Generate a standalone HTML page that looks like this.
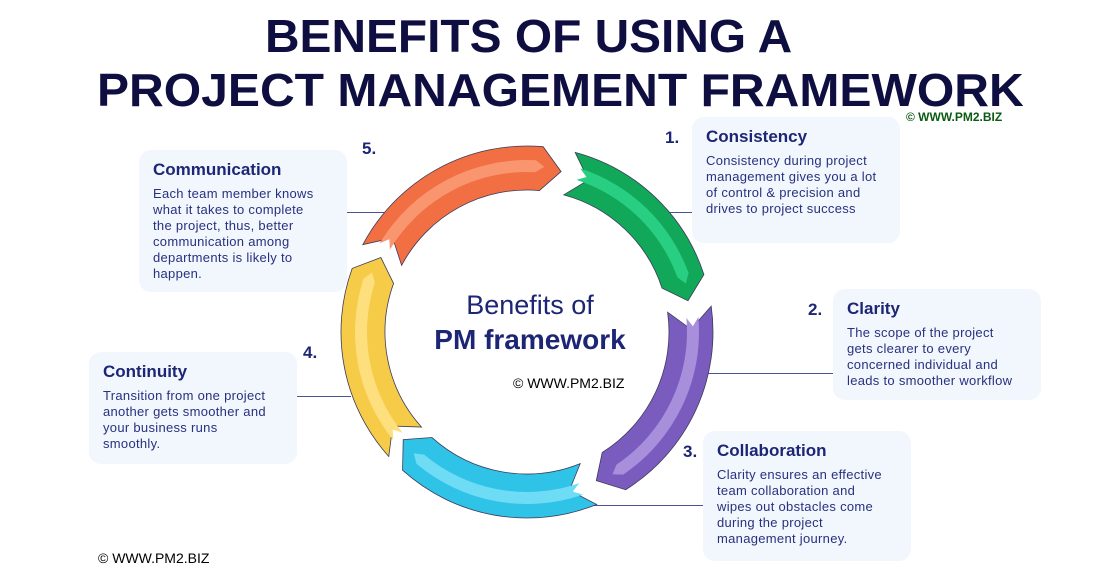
<!DOCTYPE html>
<html><head><meta charset="utf-8"><style>
body{margin:0;width:1120px;height:581px;background:#fff;position:relative;overflow:hidden;font-family:"Liberation Sans",sans-serif}
.t{position:absolute;white-space:nowrap;font-weight:bold;font-size:46px;color:#0e0e40;transform-origin:left top}
.box{position:absolute;background:#f2f6fd;border-radius:12px;box-sizing:border-box;padding:10px 14px;color:#27317f}
.box h3{margin:0 0 6px;font-size:17px;color:#1c2675}
.box p{margin:0;font-size:13px;line-height:16px;letter-spacing:0.3px;white-space:nowrap}
.num{position:absolute;font-weight:bold;font-size:17px;color:#1c2675}
.ln{position:absolute;height:1px;background:#4a5494}
.wm{position:absolute;font-size:14px;color:#000}
</style></head><body>
<div class="t" style="top:9px;left:265px;transform:scaleX(1.04)">BENEFITS OF USING A</div>
<div class="t" style="top:63px;left:97px;transform:scaleX(1.045)">PROJECT MANAGEMENT FRAMEWORK</div>
<div class="wm" style="left:906px;top:110px;font-size:12px;font-weight:bold;color:#0b5a14">© WWW.PM2.BIZ</div>
<div class="wm" style="left:513px;top:375px">© WWW.PM2.BIZ</div>
<div class="wm" style="left:98px;top:550px">© WWW.PM2.BIZ</div>

<div class="ln" style="left:347px;top:212px;width:40px"></div>
<div class="ln" style="left:662px;top:212px;width:32px"></div>
<div class="ln" style="left:700px;top:373px;width:135px"></div>
<div class="ln" style="left:575px;top:505px;width:130px"></div>
<div class="ln" style="left:296px;top:396px;width:55px"></div>

<svg width="1120" height="581" style="position:absolute;left:0;top:0" id="cyc"></svg>

<div style="position:absolute;left:405px;top:290px;width:250px;text-align:center;color:#1c2675">
<div style="font-size:27px">Benefits of</div><div style="font-size:28px;font-weight:bold;margin-top:3px">PM framework</div></div>

<div class="num" style="left:665px;top:128px">1.</div>
<div class="box" style="left:692px;top:117px;width:208px;height:126px"><h3>Consistency</h3><p>Consistency during project<br>management gives you a lot<br>of control &amp; precision and<br>drives to project success</p></div>
<div class="num" style="left:808px;top:300px">2.</div>
<div class="box" style="left:833px;top:289px;width:208px;height:111px"><h3>Clarity</h3><p>The scope of the project<br>gets clearer to every<br>concerned individual and<br>leads to smoother workflow</p></div>
<div class="num" style="left:683px;top:442px">3.</div>
<div class="box" style="left:703px;top:431px;width:208px;height:130px"><h3>Collaboration</h3><p>Clarity ensures an effective<br>team collaboration and<br>wipes out obstacles come<br>during the project<br>management journey.</p></div>
<div class="num" style="left:303px;top:343px">4.</div>
<div class="box" style="left:89px;top:352px;width:208px;height:112px"><h3>Continuity</h3><p>Transition from one project<br>another gets smoother and<br>your business runs<br>smoothly.</p></div>
<div class="num" style="left:362px;top:139px">5.</div>
<div class="box" style="left:139px;top:150px;width:208px;height:142px"><h3>Communication</h3><p>Each team member knows<br>what it takes to complete<br>the project, thus, better<br>communication among<br>departments is likely to<br>happen.</p></div>

<script>
const segStart=[15,82,158,228,298];
const segEnd=[72,148,222,290,5];
const fills=['#12a85a','#7a5cbf','#2fc3e8','#f6cb48','#f26e43'];
const stripes=['#28cf82','#a88fdc','#6fdcf5','#fde07d','#f9966f'];
const names=['arrow-consistency','arrow-clarity','arrow-collaboration','arrow-continuity','arrow-communication'];
const cx=527,cy=332,Ro=186,Ri=142;
const svg=document.getElementById('cyc');
function pt(r,a){const t=a*Math.PI/180;return [cx+r*Math.sin(t),cy-r*Math.cos(t)];}
function arcPath(r1,r2,a1,a2,head,notch){
  let e=a2; if(e<a1)e+=360;
  const rm=(r1+r2)/2;
  const p1=pt(r2,a1),p2=pt(r2,e),tip=pt(rm,e+head),p3=pt(r1,e),p4=pt(r1,a1),nt=pt(rm,a1+notch);
  return `M${p1} A${r2},${r2} 0 0 1 ${p2} L${tip} L${p3} A${r1},${r1} 0 0 0 ${p4} L${nt} Z`;
}
for(let i=0;i<segStart.length;i++){
  const p=document.createElementNS('http://www.w3.org/2000/svg','path');
  p.setAttribute('d',arcPath(Ri,Ro,segStart[i],segEnd[i],7,7));
  p.setAttribute('fill',fills[i]);p.setAttribute('stroke','#3b3b5a');p.setAttribute('stroke-width','0.8');
  
  
  svg.appendChild(p);
  const s=document.createElementNS('http://www.w3.org/2000/svg','path');
  s.setAttribute('d',arcPath(160,172,segStart[i]+3,segEnd[i]-2,3,3));
  s.setAttribute('fill',stripes[i]);
  
  
  svg.appendChild(s);
}
</script>
</body></html>
